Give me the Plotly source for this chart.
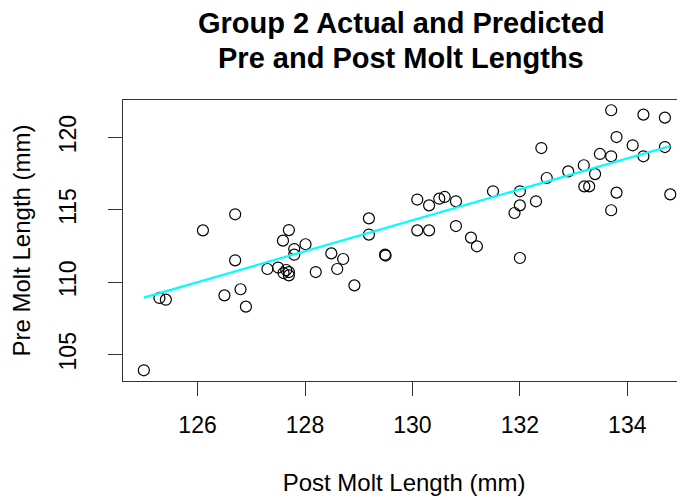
import plotly.graph_objects as go

# Actual data
post_molt = [125.00, 125.29, 125.41, 126.10, 126.70, 126.70, 126.50, 126.80, 126.90,
             127.30, 127.50, 127.59, 127.70, 127.80, 127.80, 128.01, 127.60, 127.70,
             127.70, 127.65, 128.20, 128.49, 128.71, 128.60, 128.92, 129.19, 129.19,
             129.49, 129.50, 130.09, 130.09, 130.31, 130.31, 130.50, 130.60, 130.81,
             130.81, 131.09, 131.20, 131.50, 132.00, 132.00, 131.90, 132.00, 132.30,
             132.40, 132.50, 132.90, 133.19, 133.20, 133.29, 133.40, 133.49, 133.70,
             133.70, 133.80, 133.80, 133.70, 134.10, 134.30, 134.30, 134.70, 134.70,
             134.80]
pre_molt = [103.92, 108.92, 108.80, 113.59, 114.70, 111.52, 109.10, 109.52, 108.32,
            110.92, 111.02, 112.88, 113.61, 112.30, 111.91, 112.63, 110.64, 110.71,
            110.48, 110.85, 110.71, 112.00, 111.61, 110.92, 109.79, 114.42, 113.30,
            111.91, 111.85, 115.72, 113.59, 113.59, 115.32, 115.78, 115.90, 115.60,
            113.89, 113.09, 112.49, 116.29, 116.29, 115.32, 114.79, 111.68, 115.60,
            119.28, 117.21, 117.67, 118.09, 116.63, 116.63, 117.48, 118.87, 118.71,
            121.89, 120.04, 116.20, 114.98, 119.47, 121.59, 118.71, 121.38, 119.35,
            116.08]

# Predicted (fitted) line endpoints
fit_x = [125.00, 134.80]
fit_y = [108.94, 119.42]

x_ticks = [126, 128, 130, 132, 134]
y_ticks = [105, 110, 115, 120]
title_lines = ["Group 2 Actual and Predicted", "Pre and Post Molt Lengths"]
x_title = "Post Molt Length (mm)"
y_title = "Pre Molt Length (mm)"

FONT = "Liberation Sans, Arial, Helvetica, sans-serif"
AX = "#333333"

fig = go.Figure()
fig.add_trace(go.Scatter(
    x=post_molt, y=pre_molt, mode="markers",
    marker=dict(symbol="circle-open", size=11, color="black", line=dict(width=1.2)),
    hoverinfo="x+y"))
fig.add_trace(go.Scatter(
    x=fit_x, y=fit_y, mode="lines",
    line=dict(color="#00FFFF", width=2.2)))

# The page body adds an 8px offset, so the layout is shifted up/left by 8px.
fig.update_layout(
    width=685, height=500,
    margin=dict(l=115, r=8, t=92, b=127, pad=0, autoexpand=False),
    paper_bgcolor="white", plot_bgcolor="white",
    showlegend=False,
    font=dict(family=FONT, color="black", size=23),
    annotations=[
        dict(text="<b>%s</b>" % title_lines[0], x=0.495, y=1.273, xref="paper", yref="paper",
             xanchor="center", yanchor="middle", showarrow=False,
             font=dict(size=29, family=FONT, color="black")),
        dict(text="<b>%s</b>" % title_lines[1], x=0.495, y=1.150, xref="paper", yref="paper",
             xanchor="center", yanchor="middle", showarrow=False,
             font=dict(size=29, family=FONT, color="black")),
    ],
)

fig.update_xaxes(
    range=[124.612, 135.074], tickvals=x_ticks, ticktext=[str(v) for v in x_ticks],
    showgrid=False, zeroline=False, automargin=False,
    showline=True, linecolor=AX, linewidth=1.3, mirror=True,
    ticks="outside", ticklen=14, tickwidth=1.3, tickcolor=AX,
    tickfont=dict(size=23, family=FONT, color="black"),
    ticklabelstandoff=9,
    title=dict(text=x_title, font=dict(size=24, family=FONT, color="black"), standoff=37),
)
fig.update_yaxes(
    range=[103.18, 122.6], tickvals=y_ticks, ticktext=[str(v) for v in y_ticks],
    showgrid=False, zeroline=False, automargin=False,
    showline=True, linecolor=AX, linewidth=1.3, mirror=False,
    ticks="outside", ticklen=14, tickwidth=1.3, tickcolor=AX,
    tickangle=-90,
    tickfont=dict(size=23, family=FONT, color="black"),
    ticklabelstandoff=23,
    title=dict(text=y_title, font=dict(size=24, family=FONT, color="black"), standoff=17),
)

fig.write_html("out.html")
